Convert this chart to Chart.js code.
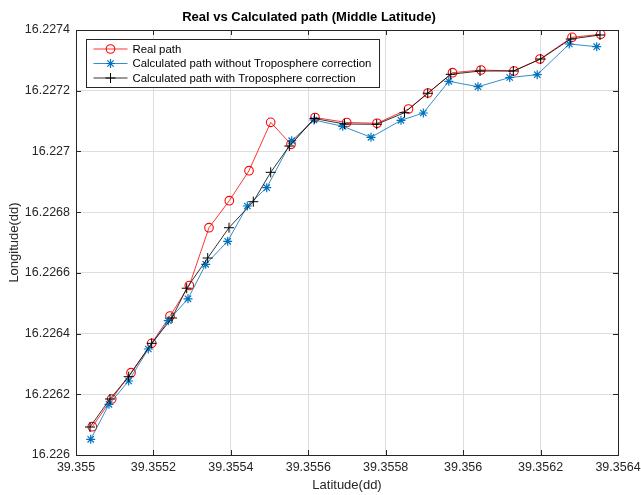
<!DOCTYPE html>
<html><head><meta charset="utf-8">
<script src="https://cdn.jsdelivr.net/npm/chart.js@4/dist/chart.umd.min.js"></script>
<style>html,body{margin:0;padding:0;background:#fff}</style>
</head><body>
<canvas id="c" width="641" height="495"></canvas>
<script>
const chartTitle = 'Real vs Calculated path (Middle Latitude)';
const xTitle = 'Latitude(dd)';
const yTitle = 'Longitude(dd)';
const seriesLabels = ['Real path', 'Calculated path without Troposphere correction', 'Calculated path with Troposphere correction'];
const xTicks = [39.355, 39.3552, 39.3554, 39.3556, 39.3558, 39.356, 39.3562, 39.3564];
const yTicks = [16.226, 16.2262, 16.2264, 16.2266, 16.2268, 16.227, 16.2272, 16.2274];

const realLat = [39.3550421, 39.3550922, 39.3551421, 39.3551955, 39.3552428, 39.3552927, 39.3553435, 39.3553960, 39.3554469, 39.3555029, 39.3555554, 39.3556173, 39.3556992, 39.3557775, 39.3558589, 39.3559092, 39.3559725, 39.3560461, 39.3561314, 39.3561985, 39.3562812, 39.3563553];
const realLon = [16.2260932, 16.2261845, 16.2262711, 16.2263679, 16.2264579, 16.2265583, 16.2267487, 16.2268377, 16.2269365, 16.2270959, 16.2270235, 16.2271117, 16.2270953, 16.2270927, 16.2271397, 16.2271924, 16.2272593, 16.2272682, 16.2272649, 16.2273044, 16.2273759, 16.2273858];

const noTropoLat = [39.3550380, 39.3550852, 39.3551361, 39.3551868, 39.3552384, 39.3552893, 39.3553350, 39.3553918, 39.3554425, 39.3554926, 39.3555572, 39.3556148, 39.3556889, 39.3557620, 39.3558395, 39.3558971, 39.3559630, 39.3560384, 39.3561203, 39.3561913, 39.3562742, 39.3563450];
const noTropoLon = [16.2260517, 16.2261670, 16.2262438, 16.2263492, 16.2264424, 16.2265145, 16.2266282, 16.2267040, 16.2268202, 16.2268805, 16.2270353, 16.2271035, 16.2270828, 16.2270465, 16.2271025, 16.2271266, 16.2272310, 16.2272132, 16.2272435, 16.2272527, 16.2273539, 16.2273450];

const tropoLat = [39.3550362, 39.3550878, 39.3551361, 39.3551955, 39.3552480, 39.3552859, 39.3553402, 39.3553952, 39.3554580, 39.3555029, 39.3555510, 39.3556161, 39.3556936, 39.3557767, 39.3558485, 39.3559085, 39.3559679, 39.3560436, 39.3561296, 39.3562003, 39.3562778, 39.3563535];
const tropoLon = [16.2260922, 16.2261845, 16.2262579, 16.2263679, 16.2264513, 16.2265494, 16.2266489, 16.2267487, 16.2268344, 16.2269312, 16.2270178, 16.2271084, 16.2270903, 16.2270894, 16.2271276, 16.2271915, 16.2272541, 16.2272649, 16.2272649, 16.2273044, 16.2273703, 16.2273835];

const toPts = (xs, ys) => xs.map((x, i) => ({x: x, y: ys[i]}));
const AX = '#262626';
const FONT = "'Liberation Sans', Arial, Helvetica, sans-serif";

const frame = {
  id: 'frame',
  afterDatasetsDraw(chart) {
    const {ctx, chartArea: a, scales} = chart;
    ctx.save();
    ctx.strokeStyle = AX;
    ctx.lineWidth = 1;
    ctx.beginPath();
    const L = 5;
    xTicks.forEach(v => {
      const p = Math.round(scales.x.getPixelForValue(v)) + 0.5;
      ctx.moveTo(p, a.bottom); ctx.lineTo(p, a.bottom - L);
      ctx.moveTo(p, a.top); ctx.lineTo(p, a.top + L);
    });
    yTicks.forEach(v => {
      const p = Math.round(scales.y.getPixelForValue(v)) + 0.5;
      ctx.moveTo(a.left, p); ctx.lineTo(a.left + L, p);
      ctx.moveTo(a.right, p); ctx.lineTo(a.right - L, p);
    });
    ctx.stroke();
    ctx.strokeRect(Math.round(a.left) + 0.5, Math.round(a.top) + 0.5, Math.round(a.right - a.left), Math.round(a.bottom - a.top));
    ctx.restore();
  }
};

const legendBox = {
  id: 'legendBox',
  afterDraw(chart) {
    const {ctx, chartArea: a} = chart;
    const x0 = Math.round(a.left) + 10.5, y0 = Math.round(a.top) + 9.5, w = 293, h = 48;
    ctx.save();
    ctx.fillStyle = '#fff';
    ctx.fillRect(x0, y0, w, h);
    ctx.strokeStyle = AX;
    ctx.lineWidth = 1;
    ctx.strokeRect(x0, y0, w, h);
    chart.data.datasets.forEach((ds, i) => {
      const y = y0 + 9.5 + i * 14.5;
      ctx.strokeStyle = ds.borderColor;
      ctx.lineWidth = ds.borderWidth;
      ctx.beginPath();
      ctx.moveTo(x0 + 7, y); ctx.lineTo(x0 + 41, y);
      ctx.stroke();
      ctx.strokeStyle = ds.pointBorderColor;
      ctx.fillStyle = 'rgba(0,0,0,0)';
      ctx.lineWidth = ds.pointBorderWidth;
      Chart.helpers.drawPoint(ctx, {pointStyle: ds.pointStyle, radius: ds.pointRadius, rotation: 0, borderWidth: ds.pointBorderWidth}, x0 + 24, y);
      ctx.fillStyle = '#000';
      ctx.font = '11.4px ' + FONT;
      ctx.textBaseline = 'middle';
      ctx.fillText(ds.label, x0 + 46, y + 0.5);
    });
    ctx.restore();
  }
};

new Chart(document.getElementById('c'), {
  type: 'scatter',
  data: {
    datasets: [
      {label: seriesLabels[0], data: toPts(realLat, realLon), borderColor: '#ff0000', pointBorderColor: '#ff0000', backgroundColor: 'rgba(0,0,0,0)', pointBackgroundColor: 'rgba(0,0,0,0)', pointStyle: 'circle', pointRadius: 4.3, pointBorderWidth: 1.1, borderWidth: 0.8, showLine: true, order: 3},
      {label: seriesLabels[1], data: toPts(noTropoLat, noTropoLon), borderColor: '#0072BD', pointBorderColor: '#0072BD', backgroundColor: 'rgba(0,0,0,0)', pointBackgroundColor: 'rgba(0,0,0,0)', pointStyle: 'star', pointRadius: 4.5, pointBorderWidth: 1.2, borderWidth: 0.8, showLine: true, order: 2},
      {label: seriesLabels[2], data: toPts(tropoLat, tropoLon), borderColor: '#000000', pointBorderColor: '#000000', backgroundColor: 'rgba(0,0,0,0)', pointBackgroundColor: 'rgba(0,0,0,0)', pointStyle: 'cross', pointRadius: 5, pointBorderWidth: 1, borderWidth: 0.8, showLine: true, order: 1}
    ]
  },
  options: {
    responsive: false,
    animation: false,
    devicePixelRatio: 1,
    layout: {padding: {left: 0, right: 23, top: 0, bottom: 0}},
    elements: {line: {tension: 0}},
    plugins: {
      legend: {display: false},
      tooltip: {enabled: false},
      title: {display: true, text: chartTitle, color: '#000', font: {family: FONT, size: 13, weight: 'bold'}, padding: {top: 10, bottom: 4.4}}
    },
    scales: {
      x: {
        type: 'linear', min: xTicks[0], max: xTicks[xTicks.length - 1],
        afterBuildTicks: s => { s.ticks = xTicks.map(v => ({value: v})); },
        afterFit: s => { s.height = 40; s.paddingLeft = 0; s.paddingRight = 0; },
        ticks: {autoSkip: false, maxRotation: 0, padding: 5, color: AX, font: {family: FONT, size: 12.5}, callback: v => String(+(+v).toFixed(4))},
        grid: {color: '#dedede', lineWidth: 1, drawTicks: false},
        border: {display: false},
        title: {display: true, text: xTitle, color: AX, font: {family: FONT, size: 13}, padding: {top: 0, bottom: 2}}
      },
      y: {
        type: 'linear', min: yTicks[0], max: yTicks[yTicks.length - 1],
        afterBuildTicks: s => { s.ticks = yTicks.map(v => ({value: v})); },
        afterFit: s => { s.width = 76; s.paddingTop = 0; s.paddingBottom = 0; },
        ticks: {autoSkip: false, padding: 6, color: AX, font: {family: FONT, size: 12.5}, callback: v => String(+(+v).toFixed(4))},
        grid: {color: '#dedede', lineWidth: 1, drawTicks: false},
        border: {display: false},
        title: {display: true, text: yTitle, color: AX, font: {family: FONT, size: 13}, padding: {top: 7, bottom: 0}}
      }
    }
  },
  plugins: [frame, legendBox]
});
</script>
</body></html>
